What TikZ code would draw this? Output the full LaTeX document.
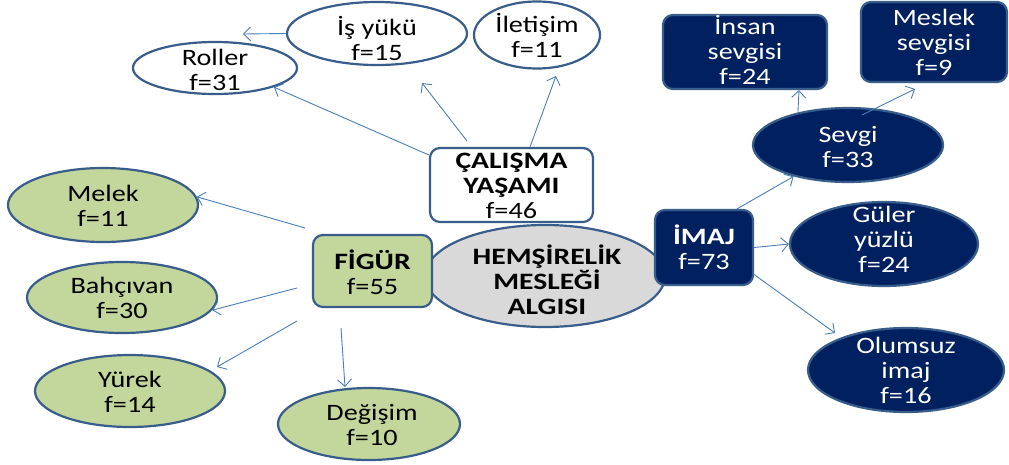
\documentclass[tikz,border=0pt]{standalone}
\usepackage{fontspec}
\setmainfont{Carlito}[FakeStretch=1.2]
\newfontfamily\boldfam{Carlito}[FakeStretch=1.26]
\usetikzlibrary{shapes.geometric,arrows.meta}
\definecolor{bordc}{RGB}{56,93,138}
\definecolor{navyc}{RGB}{0,32,96}
\definecolor{greenc}{RGB}{195,214,155}
\definecolor{grayc}{RGB}{217,217,217}
\definecolor{arrc}{RGB}{74,126,187}
\tikzset{
  bord/.style={draw=bordc, line width=2.2pt, inner sep=0pt},
  wellip/.style={ellipse, bord, fill=white},
  gellip/.style={ellipse, bord, fill=greenc},
  nellip/.style={ellipse, bord, fill=navyc},
  hellip/.style={ellipse, bord, fill=grayc},
  wbox/.style={rectangle, rounded corners=10pt, bord, fill=white},
  gbox/.style={rectangle, rounded corners=10pt, bord, fill=greenc},
  nbox/.style={rectangle, rounded corners=10pt, bord, fill=navyc},
  txt/.style={align=center, inner sep=0pt, font=\fontsize{23.5}{25}\selectfont},
  wtxt/.style={txt, text=white},
  arr/.style={draw=arrc, line width=0.9pt, -{Straight Barb[length=7pt,width=14pt]}}
}
\newcommand{\bt}[1]{{\boldfam\bfseries #1}}
\begin{document}
\begin{tikzpicture}[x=1pt,y=-1pt]
\useasboundingbox (0,0) rectangle (1009,464);
% central
\node[hellip, minimum width=240pt, minimum height=102pt] (hems) at (545,276) {};
\node[txt] (hemst) at (547,280) {\bt{HEMŞİRELİK}\\\bt{MESLEĞİ}\\\bt{ALGISI}};
% work life
\node[wellip, minimum width=164pt, minimum height=52pt] (roller) at (215,68) {};
\node[txt] (rollert) at (215,70) {Roller\\f=31};
\node[wellip, minimum width=180pt, minimum height=63pt] (isyuku) at (377,33.5) {};
\node[txt] (isyukut) at (377,38) {İş yükü\\f=15};
\node[wellip, minimum width=126pt, minimum height=67pt] (iletisim) at (537,35) {};
\node[txt] (iletisimt) at (537,35) {İletişim\\f=11};
\node[wbox, minimum width=163pt, minimum height=74pt] (calisma) at (511.5,185) {};
\node[txt] (calismat) at (511.5,186) {\bt{ÇALIŞMA}\\\bt{YAŞAMI}\\f=46};
% figure
\node[gellip, minimum width=190pt, minimum height=74pt] (melek) at (103,205) {};
\node[txt] (melekt) at (103,206) {Melek\\f=11};
\node[gellip, minimum width=190pt, minimum height=71pt] (bahcivan) at (122,297.5) {};
\node[txt] (bahcivant) at (122,298) {Bahçıvan\\f=30};
\node[gellip, minimum width=190pt, minimum height=72pt] (yurek) at (130,391) {};
\node[txt] (yurekt) at (130,392) {Yürek\\f=14};
\node[gellip, minimum width=182pt, minimum height=72pt] (degisim) at (369,424) {};
\node[txt] (degisimt) at (372,425) {Değişim\\f=10};
\node[gbox, minimum width=119pt, minimum height=72pt] (figur) at (372.5,271) {};
\node[txt] (figurt) at (372.5,272) {\bt{FİGÜR}\\f=55};
% image
\node[nbox, minimum width=98pt, minimum height=75pt] (imaj) at (704,247.5) {};
\node[wtxt] (imajt) at (704,247) {\bt{İMAJ}\\f=73};
\node[nbox, minimum width=164pt, minimum height=74pt] (insan) at (745,52) {};
\node[wtxt] (insant) at (745,50) {İnsan\\sevgisi\\f=24};
\node[nbox, minimum width=146pt, minimum height=80pt] (meslek) at (934,42) {};
\node[wtxt] (meslekt) at (934,42) {Meslek\\sevgisi\\f=9};
\node[nellip, minimum width=190pt, minimum height=74pt] (sevgi) at (848,145) {};
\node[wtxt] (sevgit) at (848,147) {Sevgi\\f=33};
\node[nellip, minimum width=188pt, minimum height=84pt] (guler) at (884,244) {};
\node[wtxt] (gulert) at (884,239) {Güler\\yüzlü\\f=24};
\node[nellip, minimum width=196pt, minimum height=84pt] (olumsuz) at (906,370) {};
\node[wtxt] (olumsuzt) at (906,370) {Olumsuz\\imaj\\f=16};
% free arrow ends
\coordinate (c2s) at (467,141);
\coordinate (c2e) at (422,83);
\coordinate (c3e) at (556,76);
\coordinate (i1e) at (243,34);
\coordinate (f1s) at (305,228);
\coordinate (f2s) at (297,288);
\coordinate (f3s) at (297,321);
\coordinate (f3e) at (217,367);
\coordinate (f4s) at (341,328);
\coordinate (f4e) at (345,387);
\coordinate (s2s) at (862,115);
\coordinate (s2e) at (915,89);
\coordinate (m3e) at (835,333);
% arrows
\draw[arr] ([yshift=30pt]calisma.west) -- (roller.-18);
\draw[arr] (c2s) -- (c2e);
\draw[arr] ([xshift=18.5pt]calisma.north) -- (c3e);
\draw[arr] (isyuku.west) -- (i1e);
\draw[arr] (f1s) -- (melek.5);
\draw[arr] (f2s) -- (bahcivan.-8);
\draw[arr] (f3s) -- (f3e);
\draw[arr] (f4s) -- (f4e);
\draw[arr] ([xshift=33pt]imaj.north) -- (sevgi.210);
\draw[arr] (sevgi.147) -- ([xshift=54pt]insan.south);
\draw[arr] (s2s) -- (s2e);
\draw[arr] (imaj.east) -- (guler.west);
\draw[arr] ([yshift=-27pt]imaj.east) -- (m3e);
\end{tikzpicture}
\end{document}
